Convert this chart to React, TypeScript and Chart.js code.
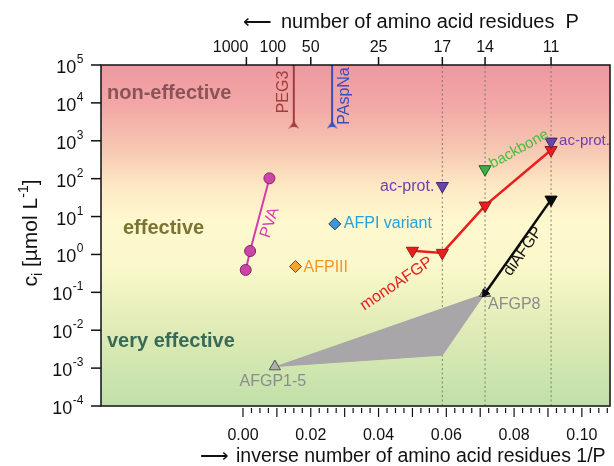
import React, { useEffect, useRef } from 'react';
import { Chart, registerables } from 'chart.js';

Chart.register(...registerables);

const FONT = '"Liberation Sans", Arial, Helvetica, sans-serif';

// ---- axis ticks ----
const residueTicks = [1000, 100, 50, 25, 17, 14, 11];
const inverseTicks = [0, 0.02, 0.04, 0.06, 0.08, 0.1];
const inverseMinorStep = 0.0025;
const decadeExponents = [-4, -3, -2, -1, 0, 1, 2, 3, 4, 5];
const guideP = [17, 14, 11];

// ---- data ----
const pvaX = [0.0008, 0.0021, 0.0078];
const pvaY = [0.39, 1.23, 102];
const afp3X = [0.0155];
const afp3Y = [0.48];
const afp1X = [0.0271];
const afp1Y = [6.4];
const monoP = [20, 17, 14, 11];
const monoY = [1.25, 1.1, 19.5, 570];
const diP = [14, 11];
const diY = [0.095, 28];
const acProtP = [17, 11];
const acProtY = [64, 950];
const backboneP = [14];
const backboneY = [178];
const afgpX = [0.0094, 1 / 14];
const afgpY = [0.0011, 0.095];
const afgpRegionX = [0.0094, 1 / 17, 1 / 14];
const afgpRegionY = [0.0011, 0.0022, 0.095];
const polymerNames = ['PEG3', 'PAspNa'];
const polymerX = [0.015, 0.0263];
const polymerMinY = [2600, 2600];

const X_MIN = -0.0419;
const X_MAX = 0.1083;
const Y_MIN = 1e-4;
const Y_MAX = 1e5;

const zip = (xs: number[], ys: number[]) => xs.map((x, i) => ({ x, y: ys[i] }));
const inv = (ps: number[]) => ps.map((p) => 1 / p);

function chevron(color: string) {
  const c = document.createElement('canvas');
  c.width = 11;
  c.height = 8;
  const g = c.getContext('2d')!;
  g.fillStyle = color;
  g.beginPath();
  g.moveTo(5.5, 0);
  g.lineTo(11, 8);
  g.quadraticCurveTo(5.5, 3.5, 0, 8);
  g.closePath();
  g.fill();
  return c;
}

function drawPow(ctx: CanvasRenderingContext2D, right: number, py: number, e: number) {
  ctx.textAlign = 'left';
  ctx.textBaseline = 'alphabetic';
  ctx.font = `18px ${FONT}`;
  const w1 = ctx.measureText('10').width;
  ctx.font = `12px ${FONT}`;
  const es = e < 0 ? '-' + Math.abs(e) : String(e);
  const w2 = ctx.measureText(es).width;
  const x0 = right - w1 - w2;
  ctx.font = `18px ${FONT}`;
  ctx.fillText('10', x0, py + 8);
  ctx.font = `12px ${FONT}`;
  ctx.fillText(es, x0 + w1 + 0.5, py - 2);
}

const bgPlugin = {
  id: 'bg',
  beforeDraw(chart: any) {
    const { ctx, chartArea: a } = chart;
    const g = ctx.createLinearGradient(0, a.top, 0, a.bottom);
    g.addColorStop(0, 'rgb(239,152,160)');
    g.addColorStop(0.12, 'rgb(242,168,166)');
    g.addColorStop(0.25, 'rgb(247,200,178)');
    g.addColorStop(0.36, 'rgb(253,234,196)');
    g.addColorStop(0.46, 'rgb(255,248,206)');
    g.addColorStop(0.6, 'rgb(250,248,202)');
    g.addColorStop(0.76, 'rgb(226,236,184)');
    g.addColorStop(1, 'rgb(192,224,168)');
    ctx.save();
    ctx.fillStyle = g;
    ctx.fillRect(a.left, a.top, a.right - a.left, a.bottom - a.top);
    ctx.restore();
  },
};

const labelPlugin = {
  id: 'labels',
  afterDatasetsDraw(chart: any) {
    const { ctx, scales } = chart;
    const X = (v: number) => scales.x.getPixelForValue(v);
    const Y = (v: number) => scales.y.getPixelForValue(v);
    ctx.save();
    const text = (s: string, x: number, y: number, color: string, opts: any = {}) => {
      ctx.save();
      ctx.font = opts.font || `16px ${FONT}`;
      ctx.fillStyle = color;
      ctx.textAlign = opts.align || 'left';
      ctx.textBaseline = 'middle';
      ctx.translate(x, y);
      if (opts.rot) ctx.rotate((opts.rot * Math.PI) / 180);
      ctx.fillText(s, 0, 0);
      ctx.restore();
    };
    const small = `15px ${FONT}`;
    // region labels
    const a = chart.chartArea;
    text('non-effective', a.left + 6, 93, 'rgb(140,82,88)', { font: `bold 20px ${FONT}` });
    text('effective', a.left + 22, 228, 'rgb(122,116,52)', { font: `bold 20px ${FONT}` });
    text('very effective', a.left + 6, 341, 'rgb(56,106,86)', { font: `bold 20px ${FONT}` });

    // polymers
    text(polymerNames[0], X(polymerX[0]) - 10, 92, 'rgb(160,62,62)', { rot: -90, align: 'center' });
    text(polymerNames[1], X(polymerX[1]) + 12, 96, 'rgb(55,80,190)', { rot: -90, align: 'center' });

    text('PVA', X(pvaX[2]) + 0.5, (Y(pvaY[1]) + Y(pvaY[2])) / 2 + 8, 'rgb(214,60,175)', { rot: -72, align: 'center' });
    text('AFPIII', X(afp3X[0]) + 8, Y(afp3Y[0]) + 1, 'rgb(240,150,40)');
    text('AFPI variant', X(afp1X[0]) + 9, Y(afp1Y[0]), 'rgb(40,160,220)');
    text('ac-prot.', X(1 / acProtP[0]) - 8, Y(acProtY[0]) + 1, 'rgb(110,62,175)', { align: 'right' });
    text('ac-prot.', X(1 / acProtP[1]) + 8, Y(acProtY[1]) - 1, 'rgb(110,62,175)', { font: small });
    text('backbone', X(1 / backboneP[0]) + 34, Y(backboneY[0]) - 20, 'rgb(70,190,60)', { rot: -29, align: 'center', font: small });
    text('monoAFGP', X(1 / 20) - 16, Y(monoY[0]) + 33, 'rgb(232,30,30)', { rot: -34, align: 'center' });
    text('diAFGP', (X(1 / diP[0]) + X(1 / diP[1])) / 2 + 5, (Y(diY[0]) + Y(diY[1])) / 2 + 5, 'rgb(20,20,20)', { rot: -55, align: 'center' });
    text('AFGP8', X(afgpX[1]) + 3, Y(afgpY[1]) + 11, 'rgb(140,140,140)');
    text('AFGP1-5', X(afgpX[0]) - 2, Y(afgpY[0]) + 15, 'rgb(140,140,140)', { align: 'center' });
    ctx.restore();
  },
};

const axesPlugin = {
  id: 'axes',
  afterDraw(chart: any) {
    const { ctx, chartArea: a, scales } = chart;
    const X = (v: number) => scales.x.getPixelForValue(v);
    const Y = (v: number) => scales.y.getPixelForValue(v);
    ctx.save();
    ctx.strokeStyle = '#111';
    ctx.fillStyle = '#111';
    ctx.lineWidth = 1.5;
    ctx.strokeRect(a.left, a.top, a.right - a.left, a.bottom - a.top);
    const seg = (x1: number, y1: number, x2: number, y2: number) => {
      ctx.beginPath();
      ctx.moveTo(x1, y1);
      ctx.lineTo(x2, y2);
      ctx.stroke();
    };
    // left decades
    decadeExponents.forEach((e) => {
      const py = Y(Math.pow(10, e));
      seg(a.left - 10, py, a.left, py);
      drawPow(ctx, a.left - 18, py, e);
    });
    // top residues
    ctx.font = `16px ${FONT}`;
    ctx.textBaseline = 'alphabetic';
    residueTicks.forEach((p) => {
      const px = X(1 / p);
      seg(px, a.top - 8, px, a.top);
      if (p === 1000) {
        ctx.textAlign = 'right';
        ctx.fillText(String(p), px + 2, a.top - 13);
      } else if (p === 100) {
        ctx.textAlign = 'center';
        ctx.fillText(String(p), px - 4, a.top - 13);
      } else {
        ctx.textAlign = 'center';
        ctx.fillText(String(p), px, a.top - 13);
      }
    });
    // bottom ruler
    ctx.lineWidth = 1.2;
    const n = Math.round(X_MAX / inverseMinorStep);
    for (let i = 0; i <= n; i++) {
      const v = i * inverseMinorStep;
      if (v > X_MAX) break;
      const px = X(v);
      const major = i % 4 === 0;
      seg(px, a.bottom + 2, px, a.bottom + (major ? 11 : 7));
    }
    ctx.textAlign = 'center';
    inverseTicks.forEach((v) => {
      ctx.fillText(v.toFixed(2), X(v), a.bottom + 34);
    });
    // titles
    ctx.font = `20px ${FONT}`;
    ctx.textAlign = 'right';
    ctx.fillText('\u27F5', 272, 28);
    ctx.textAlign = 'left';
    ctx.fillText('number of amino acid residues  P', 281, 28);
    ctx.font = `19.5px ${FONT}`;
    ctx.textAlign = 'right';
    ctx.fillText('\u27F6', 229, 462);
    ctx.textAlign = 'left';
    ctx.fillText('inverse number of amino acid residues 1/P', 236, 462);
    // y title
    ctx.save();
    ctx.translate(37, 233);
    ctx.rotate(-Math.PI / 2);
    const parts: [string, number, number][] = [
      ['c', 21, 0],
      ['i', 14, 5],
      [' [\u00B5mol L', 21, 0],
      ['-1', 14, -9],
      [']', 21, 0],
    ];
    let total = 0;
    parts.forEach(([s, f]) => {
      ctx.font = `${f}px ${FONT}`;
      total += ctx.measureText(s).width;
    });
    let cx = -total / 2;
    ctx.textAlign = 'left';
    parts.forEach(([s, f, dy]) => {
      ctx.font = `${f}px ${FONT}`;
      ctx.fillText(s, cx, dy);
      cx += ctx.measureText(s).width;
    });
    ctx.restore();
    ctx.restore();
  },
};

export default function App() {
  const ref = useRef<HTMLCanvasElement>(null);
  useEffect(() => {
    document.body.style.margin = '0';
    const guides = guideP.map((p) => ({
      data: [{ x: 1 / p, y: Y_MIN }, { x: 1 / p, y: Y_MAX }],
      showLine: true,
      borderColor: 'rgba(115,115,115,0.9)',
      borderWidth: 1,
      borderDash: [2, 2.5],
      pointRadius: 0,
      order: 30,
    }));
    const polymerColors = ['rgb(160,62,62)', 'rgb(55,80,190)'];
    const polymers = polymerX.map((x, i) => ({
      data: [{ x, y: Y_MAX }, { x, y: polymerMinY[i] }],
      showLine: true,
      borderColor: polymerColors[i],
      borderWidth: 2,
      pointRadius: [0, 5],
      pointStyle: ['circle', chevron(polymerColors[i])],
      order: 5,
    }));
    const chart = new Chart(ref.current!, {
      type: 'scatter',
      data: {
        datasets: [
          ...guides,
          {
            data: zip(afgpRegionX, afgpRegionY),
            showLine: true,
            fill: 'shape',
            backgroundColor: 'rgb(168,166,168)',
            borderColor: 'rgb(168,166,168)',
            borderWidth: 1,
            pointRadius: 0,
            order: 20,
          },
          ...polymers,
          {
            data: zip(pvaX, pvaY),
            showLine: true,
            borderColor: 'rgb(214,60,175)',
            borderWidth: 2,
            pointStyle: 'circle',
            pointRadius: 5.5,
            pointBackgroundColor: 'rgb(205,68,168)',
            pointBorderColor: 'rgb(125,40,105)',
            pointBorderWidth: 1,
            order: 4,
          },
          {
            data: zip(afp3X, afp3Y),
            pointStyle: 'rectRot',
            pointRadius: 6,
            pointBackgroundColor: 'rgb(245,165,40)',
            pointBorderColor: 'rgb(90,80,60)',
            pointBorderWidth: 1,
            order: 4,
          },
          {
            data: zip(afp1X, afp1Y),
            pointStyle: 'rectRot',
            pointRadius: 6,
            pointBackgroundColor: 'rgb(60,150,215)',
            pointBorderColor: 'rgb(40,60,90)',
            pointBorderWidth: 1,
            order: 4,
          },
          {
            data: zip(inv(monoP), monoY),
            showLine: true,
            borderColor: 'rgb(235,30,30)',
            borderWidth: 2.5,
            pointStyle: 'triangle',
            rotation: 180,
            pointRadius: 7,
            pointBackgroundColor: 'rgb(235,30,30)',
            pointBorderColor: 'rgb(140,30,30)',
            pointBorderWidth: 1,
            order: 3,
          },
          {
            data: zip(afgpX, afgpY),
            pointStyle: 'triangle',
            pointRadius: 6.5,
            pointBackgroundColor: 'rgb(175,175,175)',
            pointBorderColor: 'rgb(85,85,85)',
            pointBorderWidth: 1,
            order: 3,
          },
          {
            data: zip(inv(diP), diY),
            showLine: true,
            borderColor: 'rgb(10,10,10)',
            borderWidth: 2.5,
            pointStyle: 'triangle',
            rotation: [214.7, 180],
            pointRadius: [4.5, 7],
            pointBackgroundColor: 'rgb(10,10,10)',
            pointBorderColor: 'rgb(10,10,10)',
            pointBorderWidth: 1,
            order: 2,
          },
          {
            data: zip(inv(acProtP), acProtY),
            pointStyle: 'triangle',
            rotation: 180,
            pointRadius: 7,
            pointBackgroundColor: 'rgb(105,70,170)',
            pointBorderColor: 'rgb(60,40,110)',
            pointBorderWidth: 1,
            order: 2,
          },
          {
            data: zip(inv(backboneP), backboneY),
            pointStyle: 'triangle',
            rotation: 180,
            pointRadius: 7,
            pointBackgroundColor: 'rgb(60,175,70)',
            pointBorderColor: 'rgb(30,100,40)',
            pointBorderWidth: 1,
            order: 2,
          },
        ] as any,
      },
      options: {
        animation: false,
        responsive: false,
        devicePixelRatio: 1,
        layout: { autoPadding: false, padding: { left: 101, top: 65, right: 4, bottom: 60 } },
        plugins: { legend: { display: false }, tooltip: { enabled: false } },
        events: [],
        scales: {
          x: { type: 'linear', min: X_MIN, max: X_MAX, display: false },
          y: { type: 'logarithmic', min: Y_MIN, max: Y_MAX, display: false },
        },
      } as any,
      plugins: [bgPlugin, labelPlugin, axesPlugin],
    });
    return () => chart.destroy();
  }, []);
  return (
    <div style={{ width: 614, height: 466, overflow: 'hidden' }}>
      <canvas ref={ref} width={614} height={466} style={{ display: 'block' }} />
    </div>
  );
}
